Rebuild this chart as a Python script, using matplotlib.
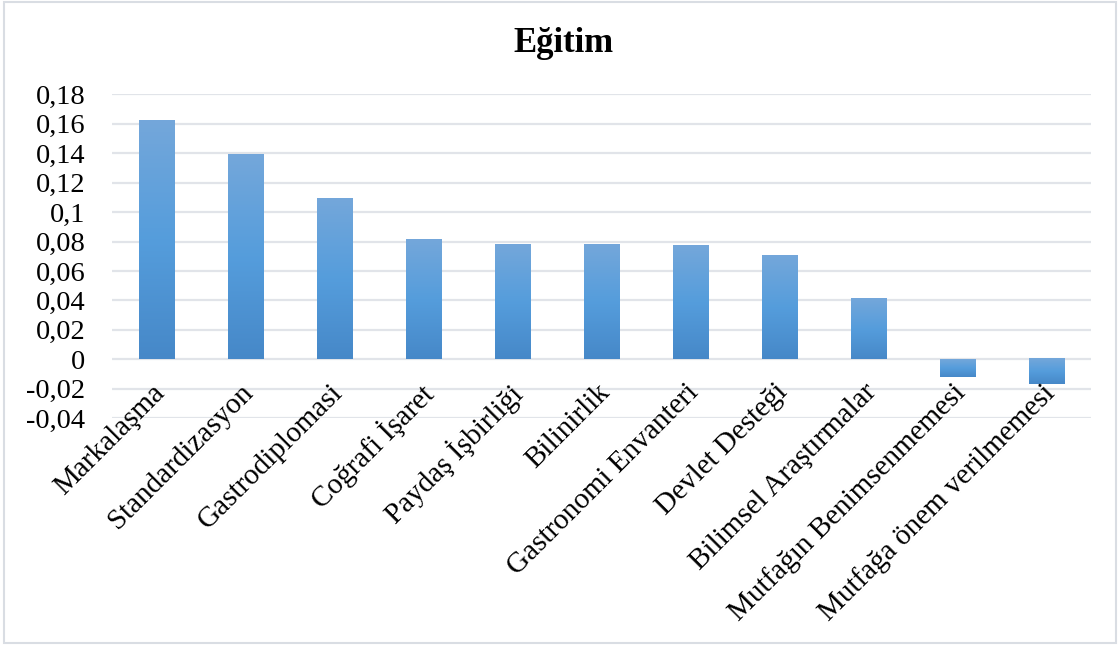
import numpy as np
import matplotlib
matplotlib.use("Agg")
import matplotlib.pyplot as plt
from matplotlib.colors import LinearSegmentedColormap
from matplotlib.patches import Rectangle
from matplotlib.ticker import FuncFormatter

title = "Eğitim"
categories = [
    "Markalaşma", "Standardizasyon", "Gastrodiplomasi", "Coğrafi İşaret",
    "Paydaş İşbirliği", "Bilinirlik", "Gastronomi Envanteri", "Devlet Desteği",
    "Bilimsel Araştırmalar", "Mutfağın Benimsenmemesi", "Mutfağa önem verilmemesi",
]
values = [0.162, 0.139, 0.109, 0.081, 0.078, 0.078, 0.077, 0.070, 0.041, -0.012, -0.017]
y_ticks = [-0.04, -0.02, 0, 0.02, 0.04, 0.06, 0.08, 0.1, 0.12, 0.14, 0.16, 0.18]

plt.rcParams["font.family"] = ["Liberation Serif", "DejaVu Serif"]

fig = plt.figure(figsize=(11.19, 6.46), dpi=100)
ax = fig.add_axes([0.1001, 0.3526, 0.8749, 0.5014])

# outer chart frame
fig.patches.append(Rectangle((0.004, 0.004), 0.993, 0.993, transform=fig.transFigure,
                             fill=False, edgecolor="#d9dde3", linewidth=1.5))

ax.set_yticks(y_ticks)
ax.yaxis.set_major_formatter(FuncFormatter(lambda v, p: ("%g" % round(v, 2)).replace(".", ",")))
ax.tick_params(axis="y", length=0, labelsize=20.5, pad=19)
ax.set_xticks([])
for s in ax.spines.values():
    s.set_visible(False)
ax.grid(axis="y", color="#e1e4e9", linewidth=1.6)
ax.set_axisbelow(True)

# bars with a vertical light-to-dark gradient
grad = LinearSegmentedColormap.from_list("bar", ["#4688c8", "#559ddc", "#74a7da"])
gimg = np.linspace(0, 1, 256).reshape(-1, 1)
width = 0.4
for i, v in enumerate(values):
    x0, x1 = i - width / 2, i + width / 2
    y0, y1 = min(0, v), max(0, v)
    ax.imshow(gimg, cmap=grad, aspect="auto", extent=(x0, x1, y0, y1),
              origin="lower", zorder=2, interpolation="bilinear")
ax.set_xlim(-0.5, len(categories) - 0.5)
ax.set_ylim(-0.04, 0.18)

for i, name in enumerate(categories):
    ax.text(i - 0.06, -0.0136, name, rotation=45, ha="right", va="top",
            rotation_mode="anchor", fontsize=21, color="black", clip_on=False)

fig.text(0.504, 0.933, title, ha="center", va="center", fontsize=25, fontweight="bold")

fig.savefig("out.png", dpi=100)
